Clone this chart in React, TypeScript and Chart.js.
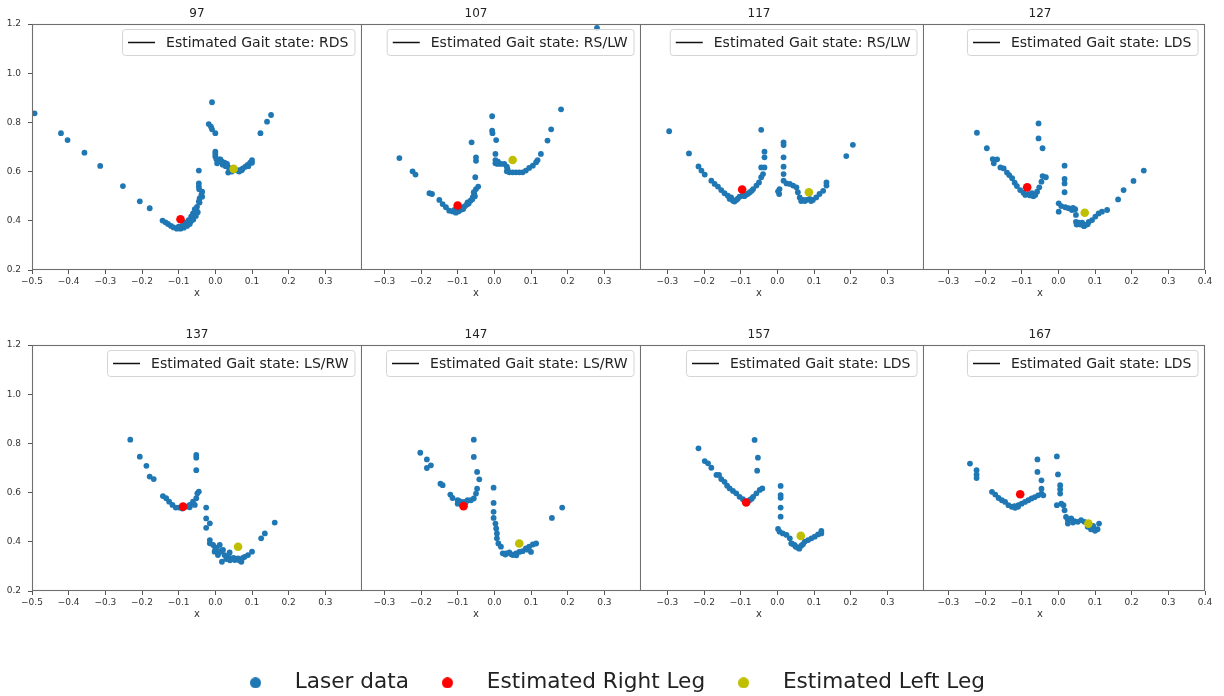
import React, { useEffect, useRef } from 'react';
import { Chart, registerables } from 'chart.js';

Chart.register(...registerables);

const FONT = '"DejaVu Sans", "Liberation Sans", sans-serif';
Chart.defaults.font.family = FONT;

// ---------------- data ----------------
const frames = ['97', '107', '117', '127', '137', '147', '157', '167'];
const gaitStates = ['RDS', 'RS/LW', 'RS/LW', 'LDS', 'LS/RW', 'LS/RW', 'LDS', 'LDS'];
const xTicks = [-0.5, -0.4, -0.3, -0.2, -0.1, 0.0, 0.1, 0.2, 0.3, 0.4];
const yTicks = [0.2, 0.4, 0.6, 0.8, 1.0, 1.2];

const laser97 = [
  [-0.493, 0.837], [-0.421, 0.756], [-0.403, 0.728], [-0.357, 0.677], [-0.314, 0.623], [-0.252, 0.541],
  [-0.206, 0.479], [-0.179, 0.451], [-0.144, 0.401], [-0.136, 0.394], [-0.129, 0.387], [-0.121, 0.379],
  [-0.114, 0.373], [-0.105, 0.368], [-0.095, 0.368], [-0.086, 0.372], [-0.077, 0.379], [-0.070, 0.387],
  [-0.064, 0.403], [-0.059, 0.417], [-0.055, 0.430], [-0.052, 0.444], [-0.050, 0.457], [-0.045, 0.478],
  [-0.043, 0.491], [-0.038, 0.505], [-0.036, 0.518], [-0.045, 0.604], [-0.045, 0.552], [-0.045, 0.539],
  [-0.044, 0.528], [-0.036, 0.498], [-0.043, 0.474], [-0.082, 0.392], [-0.073, 0.403], [-0.066, 0.417],
  [-0.061, 0.430], [-0.056, 0.447], [-0.100, 0.376], [-0.091, 0.379], [-0.068, 0.395], [-0.060, 0.405],
  [-0.053, 0.420], [-0.048, 0.435],
  [-0.009, 0.882], [-0.018, 0.793], [-0.012, 0.783], [-0.009, 0.772], [0.000, 0.756], [0.000, 0.681],
  [0.000, 0.672], [0.000, 0.661], [0.003, 0.650], [0.009, 0.650], [0.014, 0.650], [0.018, 0.640],
  [0.025, 0.636], [0.032, 0.631], [0.036, 0.617], [0.035, 0.596], [0.041, 0.607], [0.055, 0.607],
  [0.061, 0.604], [0.068, 0.607], [0.075, 0.613], [0.082, 0.620], [0.088, 0.627], [0.095, 0.636],
  [0.100, 0.647], [0.100, 0.636], [0.005, 0.634], [0.123, 0.756], [0.141, 0.803], [0.152, 0.830],
  [0.020, 0.628], [0.028, 0.622], [0.045, 0.600], [0.065, 0.600], [0.072, 0.605], [0.090, 0.622],
];

const laser107 = [
  [0.280, 1.184], [-0.259, 0.655], [-0.223, 0.601], [-0.215, 0.588], [-0.177, 0.512], [-0.170, 0.509],
  [-0.150, 0.485], [-0.141, 0.468], [-0.132, 0.455], [-0.123, 0.441], [-0.114, 0.438], [-0.105, 0.433],
  [-0.093, 0.444], [-0.084, 0.455], [-0.075, 0.466], [-0.065, 0.482], [-0.059, 0.495], [-0.055, 0.509],
  [-0.050, 0.529], [-0.044, 0.539], [-0.052, 0.577], [-0.050, 0.644], [-0.050, 0.658], [-0.062, 0.719],
  [-0.109, 0.444], [-0.073, 0.475], [-0.056, 0.516], [-0.098, 0.438], [-0.089, 0.447], [-0.080, 0.460],
  [-0.100, 0.440], [-0.085, 0.448], [-0.070, 0.470], [-0.060, 0.488], [-0.053, 0.500],
  [-0.006, 0.825], [-0.006, 0.766], [-0.005, 0.756], [0.005, 0.728], [0.003, 0.672], [0.003, 0.647],
  [0.003, 0.634], [0.009, 0.631], [0.018, 0.631], [0.027, 0.631], [0.034, 0.620], [0.034, 0.601],
  [0.041, 0.597], [0.050, 0.597], [0.059, 0.597], [0.068, 0.597], [0.077, 0.597], [0.086, 0.604],
  [0.095, 0.615], [0.105, 0.624], [0.114, 0.638], [0.118, 0.647], [0.127, 0.672], [0.145, 0.726],
  [0.155, 0.772], [0.182, 0.853], [0.010, 0.640], [0.036, 0.610],
];

const laser117 = [
  [-0.295, 0.764], [-0.241, 0.674], [-0.215, 0.621], [-0.207, 0.604], [-0.198, 0.588], [-0.180, 0.563],
  [-0.171, 0.550], [-0.162, 0.539], [-0.153, 0.525], [-0.144, 0.512], [-0.135, 0.502], [-0.130, 0.489],
  [-0.121, 0.482], [-0.112, 0.485], [-0.103, 0.498], [-0.085, 0.506], [-0.075, 0.516], [-0.066, 0.529],
  [-0.057, 0.543], [-0.050, 0.556], [-0.044, 0.577], [-0.039, 0.590], [-0.035, 0.617], [-0.044, 0.617],
  [-0.035, 0.658], [-0.035, 0.681], [-0.044, 0.770], [-0.126, 0.495], [-0.094, 0.504],
  [-0.117, 0.478], [-0.108, 0.490], [-0.090, 0.500], [-0.080, 0.510], [-0.070, 0.522],
  [0.017, 0.719], [0.017, 0.708], [0.017, 0.658], [0.017, 0.620], [0.017, 0.590], [0.017, 0.563],
  [0.025, 0.552], [0.034, 0.550], [0.043, 0.543], [0.002, 0.520], [0.005, 0.509], [0.006, 0.529],
  [0.052, 0.536], [0.056, 0.516], [0.061, 0.495], [0.070, 0.485], [0.079, 0.485], [0.088, 0.489],
  [0.097, 0.485], [0.106, 0.495], [0.115, 0.509], [0.125, 0.522], [0.134, 0.543], [0.134, 0.556],
  [0.188, 0.663], [0.206, 0.709], [0.065, 0.480], [0.075, 0.480], [0.092, 0.480],
];

const laser127 = [
  [-0.222, 0.758], [-0.195, 0.695], [-0.179, 0.651], [-0.176, 0.634], [-0.167, 0.650], [-0.158, 0.617],
  [-0.149, 0.613], [-0.140, 0.596], [-0.134, 0.586], [-0.126, 0.573], [-0.119, 0.555], [-0.113, 0.541],
  [-0.104, 0.525], [-0.095, 0.514], [-0.081, 0.508], [-0.072, 0.512], [-0.063, 0.505], [-0.058, 0.518],
  [-0.052, 0.536], [-0.046, 0.559], [-0.043, 0.582], [-0.034, 0.577], [-0.054, 0.796], [-0.054, 0.735],
  [-0.043, 0.695], [-0.090, 0.505], [-0.077, 0.503], [-0.068, 0.500],
  [0.017, 0.624], [0.017, 0.570], [0.017, 0.552], [0.017, 0.516], [0.001, 0.471], [0.001, 0.437],
  [0.008, 0.460], [0.019, 0.455], [0.028, 0.451], [0.037, 0.444], [0.046, 0.447], [0.048, 0.424],
  [0.048, 0.396], [0.055, 0.392], [0.065, 0.392], [0.074, 0.383], [0.083, 0.396], [0.092, 0.403],
  [0.101, 0.417], [0.110, 0.430], [0.119, 0.437], [0.133, 0.444], [0.163, 0.487], [0.178, 0.525],
  [0.205, 0.562], [0.233, 0.604], [0.050, 0.385], [0.060, 0.385], [0.070, 0.378], [0.080, 0.386],
  [0.040, 0.452],
];

const laser137 = [
  [-0.232, 0.815], [-0.206, 0.746], [-0.188, 0.709], [-0.179, 0.665], [-0.168, 0.655], [-0.143, 0.586],
  [-0.134, 0.577], [-0.126, 0.563], [-0.117, 0.550], [-0.108, 0.539], [-0.099, 0.539], [-0.079, 0.543],
  [-0.070, 0.550], [-0.061, 0.563], [-0.052, 0.577], [-0.045, 0.604], [-0.052, 0.753], [-0.052, 0.742],
  [-0.052, 0.691], [-0.049, 0.597], [-0.056, 0.550], [-0.070, 0.540], [-0.090, 0.535],
  [-0.025, 0.539], [-0.025, 0.495], [-0.015, 0.475], [-0.025, 0.457], [-0.015, 0.407], [-0.015, 0.394],
  [-0.006, 0.387], [0.003, 0.376], [0.012, 0.387], [0.016, 0.363], [0.018, 0.319], [0.025, 0.346],
  [0.035, 0.339], [0.044, 0.333], [0.053, 0.326], [0.062, 0.333], [0.071, 0.319], [0.080, 0.339],
  [0.089, 0.346], [0.100, 0.360], [0.125, 0.414], [0.135, 0.434], [0.162, 0.478], [-0.002, 0.360],
  [0.007, 0.346], [0.021, 0.367], [0.039, 0.357], [0.000, 0.370], [0.010, 0.355], [0.030, 0.330],
  [0.040, 0.325], [0.050, 0.335], [0.065, 0.325], [0.075, 0.335],
];

const laser147 = [
  [-0.202, 0.762], [-0.184, 0.735], [-0.184, 0.700], [-0.173, 0.711], [-0.147, 0.636], [-0.141, 0.630],
  [-0.120, 0.592], [-0.114, 0.578], [-0.100, 0.569], [-0.100, 0.555], [-0.073, 0.569], [-0.064, 0.569],
  [-0.056, 0.576], [-0.050, 0.596], [-0.047, 0.616], [-0.056, 0.815], [-0.056, 0.745], [-0.047, 0.684],
  [-0.041, 0.654], [-0.091, 0.562], [-0.082, 0.562], [-0.095, 0.565], [-0.078, 0.560],
  [-0.002, 0.620], [-0.002, 0.558], [-0.002, 0.522], [-0.002, 0.497], [0.003, 0.474], [0.005, 0.454],
  [0.007, 0.434], [0.007, 0.414], [0.011, 0.393], [0.018, 0.380], [0.023, 0.353], [0.032, 0.353],
  [0.041, 0.357], [0.050, 0.346], [0.059, 0.353], [0.068, 0.359], [0.077, 0.362], [0.086, 0.373],
  [0.095, 0.380], [0.105, 0.389], [0.114, 0.393], [0.100, 0.359], [0.157, 0.497], [0.185, 0.539],
  [0.030, 0.348], [0.045, 0.350], [0.060, 0.345], [0.090, 0.368],
];

const laser157 = [
  [-0.215, 0.780], [-0.198, 0.728], [-0.189, 0.719], [-0.180, 0.701], [-0.166, 0.672], [-0.159, 0.672],
  [-0.153, 0.655], [-0.144, 0.644], [-0.137, 0.628], [-0.130, 0.617], [-0.121, 0.607], [-0.112, 0.597],
  [-0.103, 0.583], [-0.094, 0.573], [-0.075, 0.570], [-0.066, 0.583], [-0.057, 0.597], [-0.048, 0.611],
  [-0.041, 0.617], [-0.062, 0.814], [-0.053, 0.742], [-0.055, 0.689], [-0.080, 0.565], [-0.070, 0.575],
  [0.009, 0.627], [0.009, 0.590], [0.009, 0.579], [0.009, 0.539], [0.009, 0.502], [0.002, 0.452],
  [0.006, 0.441], [0.015, 0.434], [0.025, 0.428], [0.034, 0.414], [0.038, 0.394], [0.047, 0.387],
  [0.056, 0.376], [0.065, 0.384], [0.075, 0.401], [0.084, 0.407], [0.093, 0.414], [0.102, 0.421],
  [0.111, 0.430], [0.120, 0.444], [0.120, 0.434], [0.050, 0.380], [0.060, 0.372], [0.070, 0.390],
  [0.040, 0.392],
];

const laser167 = [
  [-0.241, 0.718], [-0.223, 0.691], [-0.223, 0.673], [-0.223, 0.659], [-0.181, 0.603], [-0.172, 0.592],
  [-0.163, 0.578], [-0.154, 0.569], [-0.145, 0.562], [-0.136, 0.549], [-0.127, 0.542], [-0.118, 0.538],
  [-0.109, 0.549], [-0.100, 0.555], [-0.091, 0.562], [-0.082, 0.569], [-0.073, 0.576], [-0.064, 0.582],
  [-0.055, 0.589], [-0.046, 0.596], [-0.041, 0.589], [-0.046, 0.616], [-0.046, 0.650], [-0.057, 0.684],
  [-0.057, 0.735], [-0.120, 0.545], [-0.110, 0.542],
  [-0.004, 0.747], [-0.001, 0.674], [0.005, 0.630], [0.005, 0.614], [0.005, 0.596], [0.008, 0.555],
  [-0.004, 0.549], [0.014, 0.549], [0.017, 0.528], [0.021, 0.501], [0.026, 0.488], [0.035, 0.495],
  [0.044, 0.484], [0.053, 0.481], [0.062, 0.488], [0.071, 0.481], [0.080, 0.461], [0.089, 0.451],
  [0.098, 0.451], [0.107, 0.451], [0.111, 0.474], [0.026, 0.474], [0.090, 0.458], [0.100, 0.445],
  [0.095, 0.465], [0.040, 0.478],
];

const laserSets = [laser97, laser107, laser117, laser127, laser137, laser147, laser157, laser167];

const rightLegX = [-0.095, -0.100, -0.096, -0.085, -0.088, -0.084, -0.085, -0.104];
const rightLegY = [0.406, 0.462, 0.527, 0.536, 0.543, 0.545, 0.560, 0.593];
const leftLegX = [0.050, 0.050, 0.086, 0.072, 0.062, 0.068, 0.064, 0.082];
const leftLegY = [0.611, 0.647, 0.516, 0.433, 0.380, 0.393, 0.424, 0.474];

const legendLabels = ['Laser data', 'Estimated Right Leg', 'Estimated Left Leg'];

// ---------------- styles / layout ----------------
const BLUE = '#1f77b4';
const RED = '#ff0000';
const OLIVE = '#bfbf00';
const legendColors = [BLUE, RED, OLIVE];

const CANVAS_W = 374;
const CANVAS_H = 304;
const Y_AXIS_W = 32;
const X_AXIS_H = 34;
const RIGHT_PAD = 12;
const CANVAS_LEFT = [0, 279, 562, 843];
const CROP_LEFT = [0, 362, 641, 924, 1224];
const ROW_TOP = [0, 321];

const fmtX = (v: number) => {
  const s = Math.abs(v).toFixed(1);
  return v < -1e-9 ? '\u2212' + s : s;
};

const frameBoxPlugin = {
  id: 'frameBox',
  afterDatasetsDraw(chart: any) {
    const { ctx, chartArea: a } = chart;
    ctx.save();
    ctx.strokeStyle = '#6f6f6f';
    ctx.lineWidth = 1.1;
    ctx.strokeRect(a.left + 0.5, a.top + 0.5, a.right - a.left - 1, a.bottom - a.top - 1);
    ctx.restore();
  },
};

const gaitLegendPlugin = {
  id: 'gaitLegend',
  afterDraw(chart: any, _args: any, opts: any) {
    const { ctx, chartArea: a } = chart;
    const text = opts.text as string;
    ctx.save();
    ctx.font = `14px ${FONT}`;
    const tw = ctx.measureText(text).width;
    const w = tw + 50;
    const h = 26;
    const x = a.right - 7.5 - w;
    const y = a.top + 5;
    ctx.beginPath();
    if (ctx.roundRect) ctx.roundRect(x + 0.5, y + 0.5, w, h, 3);
    else ctx.rect(x + 0.5, y + 0.5, w, h);
    ctx.fillStyle = 'rgba(255,255,255,0.8)';
    ctx.fill();
    ctx.strokeStyle = '#d4d4d4';
    ctx.lineWidth = 1;
    ctx.stroke();
    ctx.beginPath();
    ctx.moveTo(x + 6, y + h / 2 + 0.5);
    ctx.lineTo(x + 33, y + h / 2 + 0.5);
    ctx.strokeStyle = '#111';
    ctx.lineWidth = 1.5;
    ctx.stroke();
    ctx.fillStyle = '#222';
    ctx.textBaseline = 'middle';
    ctx.textAlign = 'left';
    ctx.fillText(text, x + 44, y + h / 2 + 1);
    ctx.restore();
  },
};

function panelConfig(i: number): any {
  const col = i % 4;
  const isLastCol = col === 3;
  const tickColor = '#555';
  return {
    type: 'scatter',
    data: {
      datasets: [
        {
          label: legendLabels[0],
          data: laserSets[i].map(([x, y]) => ({ x, y })),
          backgroundColor: BLUE,
          borderColor: BLUE,
          pointRadius: 2.9,
          pointBorderWidth: 0,
          order: 2,
        },
        {
          label: legendLabels[1],
          data: [{ x: rightLegX[i], y: rightLegY[i] }],
          backgroundColor: RED,
          borderColor: RED,
          pointRadius: 4.3,
          pointBorderWidth: 0,
          order: 1,
        },
        {
          label: legendLabels[2],
          data: [{ x: leftLegX[i], y: leftLegY[i] }],
          backgroundColor: OLIVE,
          borderColor: OLIVE,
          pointRadius: 4.3,
          pointBorderWidth: 0,
          order: 0,
        },
      ],
    },
    options: {
      animation: false,
      responsive: false,
      devicePixelRatio: 1,
      events: [],
      layout: { padding: { left: 0, right: RIGHT_PAD, top: 0, bottom: 0 } },
      scales: {
        x: {
          type: 'linear',
          min: -0.5,
          max: 0.4,
          afterBuildTicks: (scale: any) => {
            scale.ticks = xTicks.map((v) => ({ value: v }));
          },
          afterFit: (scale: any) => {
            scale.height = X_AXIS_H;
          },
          ticks: {
            autoSkip: false,
            maxRotation: 0,
            minRotation: 0,
            padding: 2,
            color: '#333',
            font: { family: FONT, size: 9 },
            callback: (v: number) => (!isLastCol && Math.abs(v - 0.4) < 1e-9 ? '' : fmtX(v)),
          },
          grid: { display: true, drawOnChartArea: false, drawTicks: true, tickLength: 4, color: tickColor },
          border: { display: false },
          title: {
            display: true,
            text: 'x',
            color: '#333',
            font: { family: FONT, size: 10 },
            padding: { top: 0, bottom: 5 },
          },
        },
        y: {
          type: 'linear',
          min: 0.2,
          max: 1.2,
          afterBuildTicks: (scale: any) => {
            scale.ticks = yTicks.map((v) => ({ value: v }));
          },
          afterFit: (scale: any) => {
            scale.width = Y_AXIS_W;
          },
          ticks: {
            autoSkip: false,
            padding: 7,
            color: '#333',
            font: { family: FONT, size: 9 },
            callback: (v: number) => v.toFixed(1),
          },
          grid: { display: true, drawOnChartArea: false, drawTicks: true, tickLength: 4, color: tickColor },
          border: { display: false },
        },
      },
      plugins: {
        legend: { display: false },
        tooltip: { enabled: false },
        title: {
          display: true,
          text: frames[i],
          fullSize: false,
          color: '#222',
          font: { family: FONT, size: 12, weight: 'normal' },
          padding: { top: 7, bottom: 2.6 },
        },
        gaitLegend: { text: 'Estimated Gait state: ' + gaitStates[i] },
      },
    },
    plugins: [frameBoxPlugin, gaitLegendPlugin],
  };
}

function makeDot(color: string, r: number) {
  const c = document.createElement('canvas');
  c.width = Math.ceil(2 * r);
  c.height = Math.ceil(2 * r);
  const g = c.getContext('2d');
  if (g) {
    g.fillStyle = color;
    g.beginPath();
    g.arc(c.width / 2, c.height / 2, r, 0, Math.PI * 2);
    g.fill();
  }
  return c;
}

function legendConfig(): any {
  return {
    type: 'scatter',
    data: {
      datasets: legendLabels.map((label, k) => ({
        label,
        data: [],
        backgroundColor: legendColors[k],
        borderColor: legendColors[k],
        pointStyle: makeDot(legendColors[k], 5.5),
      })),
    },
    options: {
      animation: false,
      responsive: false,
      devicePixelRatio: 1,
      events: [],
      layout: { padding: 0 },
      scales: { x: { display: false }, y: { display: false } },
      plugins: {
        tooltip: { enabled: false },
        title: { display: false },
        legend: {
          display: true,
          position: 'top',
          align: 'center',
          labels: {
            usePointStyle: true,
            pointStyleWidth: 57,
            boxHeight: 11,
            padding: 10,
            color: '#222',
            font: { family: FONT, size: 21.6 },
          },
        },
      },
    },
  };
}

export default function App() {
  const panelRefs = useRef<(HTMLCanvasElement | null)[]>([]);
  const legendRef = useRef<HTMLCanvasElement | null>(null);

  useEffect(() => {
    const charts: Chart[] = [];
    frames.forEach((_, i) => {
      const cv = panelRefs.current[i];
      if (cv) charts.push(new Chart(cv, panelConfig(i)));
    });
    if (legendRef.current) charts.push(new Chart(legendRef.current, legendConfig()));
    return () => charts.forEach((c) => c.destroy());
  }, []);

  return (
    <div
      style={{
        position: 'fixed',
        left: 0,
        top: 0,
        width: 1224,
        height: 696,
        background: '#fff',
        overflow: 'hidden',
      }}
    >
      {frames.map((f, i) => {
        const row = Math.floor(i / 4);
        const col = i % 4;
        return (
          <div
            key={f}
            style={{
              position: 'absolute',
              left: CROP_LEFT[col],
              top: ROW_TOP[row],
              width: CROP_LEFT[col + 1] - CROP_LEFT[col],
              height: CANVAS_H,
              overflow: 'hidden',
            }}
          >
            <canvas
              ref={(el) => {
                panelRefs.current[i] = el;
              }}
              width={CANVAS_W}
              height={CANVAS_H}
              style={{
                position: 'absolute',
                left: CANVAS_LEFT[col] - CROP_LEFT[col],
                top: 0,
                width: CANVAS_W,
                height: CANVAS_H,
              }}
            />
          </div>
        );
      })}
      <canvas
        ref={legendRef}
        width={1224}
        height={100}
        style={{ position: 'absolute', left: -6, top: 662, width: 1224, height: 100 }}
      />
    </div>
  );
}
